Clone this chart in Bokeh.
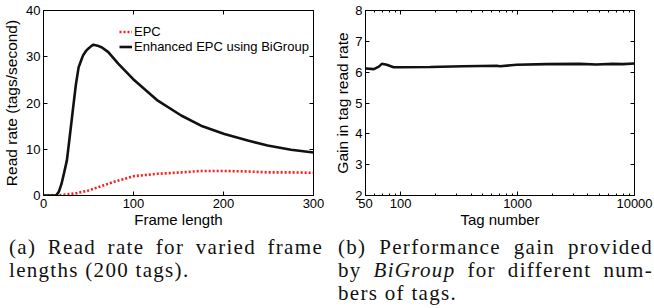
from bokeh.plotting import figure
from bokeh.models import (ColumnDataSource, Range1d, LinearAxis, LogAxis, FixedTicker,
                          Legend, LegendItem, Div)
from bokeh.layouts import column, row
from bokeh.embed import file_html
from bokeh.resources import INLINE

# ---------------- data ----------------
frame_len_epc = [0, 15, 25, 37, 50, 61, 79, 101, 127, 153, 175, 201, 227, 249, 275, 300]
rate_epc = [0, 0.05, 0.2, 0.5, 1.1, 1.8, 3.0, 4.2, 4.7, 5.0, 5.3, 5.3, 5.2, 5.0, 5.0, 4.9]

frame_len_big = [0, 10, 14, 17, 20, 23, 26, 29.5, 33, 36, 39, 42, 44, 47, 50, 53, 55.5, 60, 65,
                 72, 83, 101, 127, 153, 175, 201, 227, 249, 275, 300]
rate_big = [0, 0, 0, 0.8, 2.5, 5.0, 7.6, 13.3, 19.1, 24.0, 27.7, 29.3, 30.3, 31.2, 31.8, 32.3, 32.6,
            32.4, 32.0, 31.0, 28.5, 24.9, 20.5, 17.3, 15.1, 13.3, 11.9, 10.8, 9.9, 9.3]

tag_number = [50, 59, 65, 69, 76, 87, 99, 179, 344, 662, 707, 982, 1767, 3399, 4712, 6531, 7930, 10000]
gain = [6.12, 6.10, 6.18, 6.27, 6.24, 6.16, 6.16, 6.17, 6.19, 6.21, 6.19, 6.24, 6.26, 6.27, 6.25,
        6.27, 6.26, 6.28]

x1_ticks = [0, 100, 200, 300]
y1_ticks = [0, 10, 20, 30, 40]
x2_ticks = [50, 100, 1000, 10000]
x2_minor = [60, 70, 80, 90, 200, 300, 400, 500, 600, 700, 800, 900,
            2000, 3000, 4000, 5000, 6000, 7000, 8000, 9000]
y2_ticks = [2, 3, 4, 5, 6, 7, 8]

cap_a_lines = ["(a) Read rate for varied frame", "lengths (200 tags)."]
cap_b_lines = ["(b) Performance gain provided", "by <i>BiGroup</i> for different num-",
               "bers of tags."]

FONT = "Liberation Sans"


def style_axis(ax, ticks, minor=None, labels=True):
    ax.ticker = FixedTicker(ticks=ticks, minor_ticks=minor or [])
    ax.axis_line_color = "black"
    ax.axis_line_width = 1
    ax.major_tick_in = 4
    ax.major_tick_out = 0
    ax.major_tick_line_color = "black"
    ax.minor_tick_in = 2
    ax.minor_tick_out = 0
    ax.minor_tick_line_color = "black" if minor else None
    ax.major_label_text_font = FONT
    if labels:
        ax.major_label_text_font_size = "13px"
        ax.major_label_text_color = "black"
        ax.major_label_standoff = 3
    else:
        ax.major_label_text_font_size = "1px"
        ax.major_label_text_color = None
        ax.major_label_standoff = 0
    ax.axis_label_text_font = FONT
    ax.axis_label_text_font_size = "15px"
    ax.axis_label_text_font_style = "normal"
    ax.axis_label_text_color = "black"
    ax.axis_label_standoff = 1


# ---------------- left figure ----------------
p1 = figure(width=330, height=236, output_backend="svg", toolbar_location=None,
            x_range=Range1d(0, 300), y_range=Range1d(0, 40),
            min_border_left=42, min_border_right=17, min_border_top=10, min_border_bottom=41)
p1.grid.visible = False
p1.outline_line_color = "black"
p1.outline_line_width = 1
p1.background_fill_color = "white"
p1.border_fill_color = "white"

style_axis(p1.xaxis[0], x1_ticks)
style_axis(p1.yaxis[0], y1_ticks)
p1.xaxis[0].axis_label = "Frame length"
p1.yaxis[0].axis_label = "Read rate (tags/second)"
p1.yaxis[0].axis_label_text_font_size = "15.5px"
p1.yaxis[0].axis_label_standoff = 3
p1.xaxis[0].axis_label_standoff = 0

top1 = LinearAxis()
style_axis(top1, x1_ticks, labels=False)
p1.add_layout(top1, "above")
right1 = LinearAxis()
style_axis(right1, y1_ticks, labels=False)
p1.add_layout(right1, "right")

src_epc = ColumnDataSource(dict(x=frame_len_epc, y=rate_epc))
src_big = ColumnDataSource(dict(x=frame_len_big, y=rate_big))
r_epc = p1.line("x", "y", source=src_epc, line_color="#ff1a1a", line_width=2.6, line_dash="2 2")
r_big = p1.line("x", "y", source=src_big, line_color="#111111", line_width=2.6)

leg = Legend(items=[LegendItem(label="EPC", renderers=[r_epc]),
                    LegendItem(label="Enhanced EPC using BiGroup", renderers=[r_big])],
             location=(76, 141))
leg.label_text_font = FONT
leg.label_text_font_size = "13px"
leg.label_text_color = "black"
leg.glyph_width = 13
leg.glyph_height = 15
leg.label_height = 15
leg.label_standoff = 2
leg.spacing = 0
leg.padding = 0
leg.margin = 0
leg.border_line_color = None
leg.background_fill_alpha = 0
p1.add_layout(leg)

# ---------------- right figure ----------------
p2 = figure(width=324, height=236, output_backend="svg", toolbar_location=None,
            x_axis_type="log", x_range=Range1d(50, 10000), y_range=Range1d(2, 8),
            min_border_left=35, min_border_right=20, min_border_top=10, min_border_bottom=41)
p2.grid.visible = False
p2.outline_line_color = "black"
p2.outline_line_width = 1
p2.background_fill_color = "white"
p2.border_fill_color = "white"

style_axis(p2.xaxis[0], x2_ticks, x2_minor)
style_axis(p2.yaxis[0], y2_ticks)
p2.xaxis[0].axis_label = "Tag number"
p2.yaxis[0].axis_label = "Gain in tag read rate"
p2.yaxis[0].axis_label_text_font_size = "15.5px"
p2.xaxis[0].axis_label_standoff = 0

top2 = LogAxis()
style_axis(top2, x2_ticks, x2_minor, labels=False)
p2.add_layout(top2, "above")
right2 = LinearAxis()
style_axis(right2, y2_ticks, labels=False)
p2.add_layout(right2, "right")

src_gain = ColumnDataSource(dict(x=tag_number, y=gain))
p2.line("x", "y", source=src_gain, line_color="#111111", line_width=2.6)


# ---------------- captions ----------------
def caption(lines, w, pad_left, inner_w):
    parts = []
    for i, ln in enumerate(lines):
        last = "justify" if i < len(lines) - 1 else "left"
        parts.append('<div style="text-align:justify; text-align-last:%s; white-space:nowrap;">%s</div>'
                     % (last, ln))
    html = ('<div style="width:%dpx; margin:0 0 0 %dpx; padding:0; '
            'font-family:\'Liberation Serif\', \'Times New Roman\', serif; '
            'font-size:21px; letter-spacing:1.3px; line-height:23px; color:#111;">'
            % (inner_w, pad_left) + "".join(parts) + '</div>')
    return Div(text=html, width=w, height=72, margin=(0, 0, 0, 0))


div_a = caption(cap_a_lines, 330, 9, 314)
div_b = caption(cap_b_lines, 324, 8, 315)

layout = column(row(p1, p2, spacing=0), row(div_a, div_b, spacing=0), spacing=0)

open("out.html", "w").write(file_html(layout, INLINE))
